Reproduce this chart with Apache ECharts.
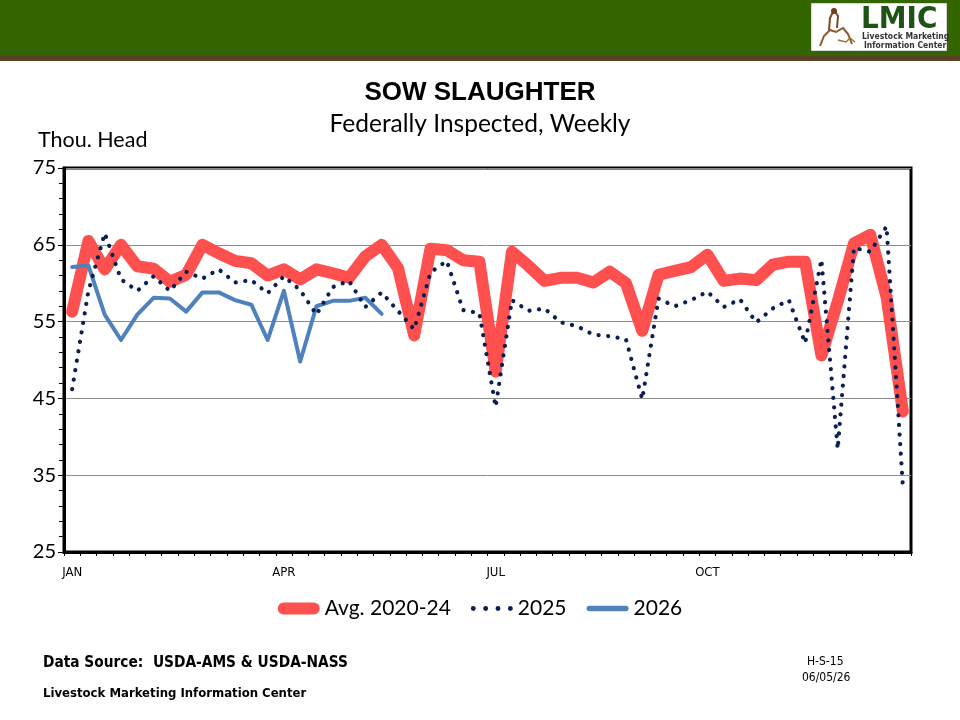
<!DOCTYPE html>
<html>
<head>
<meta charset="utf-8">
<script src="https://cdn.jsdelivr.net/npm/echarts@6/dist/echarts.min.js"></script>
<style>
html,body{margin:0;padding:0;background:#fff;}
#chart{width:960px;height:720px;}
</style>
</head>
<body>
<div id="chart"></div>
<script>
// ---- data ----
var weeks = [];
for (var i = 1; i <= 52; i++) weeks.push('W' + i);
var monthLabels = { 0: 'JAN', 13: 'APR', 26: 'JUL', 39: 'OCT' };
var yTicks = [25, 35, 45, 55, 65, 75];

var avg2020_24 = [56.3, 65.5, 61.8, 65.0, 62.2, 61.9, 60.2, 61.1, 65.0, 63.9,
  62.9, 62.6, 61.0, 61.8, 60.5, 61.8, 61.3, 60.7, 63.5, 65.0,
  62.0, 53.2, 64.5, 64.3, 63.0, 62.8, 48.5, 64.1, 62.3, 60.3,
  60.7, 60.7, 60.1, 61.5, 60.0, 53.8, 61.1, 61.6, 62.1, 63.7,
  60.3, 60.6, 60.4, 62.4, 62.8, 62.8, 50.6, 57.6, 65.2, 66.3,
  58.2, 43.3];
var y2025 = [46.2, 59.0, 66.5, 60.5, 59.0, 60.9, 59.0, 61.5, 60.6, 61.8,
  60.1, 60.4, 58.7, 60.9, 59.1, 55.9, 59.5, 60.3, 56.9, 58.8,
  56.4, 54.0, 61.4, 62.9, 56.5, 56.1, 43.9, 57.8, 56.4, 56.7,
  54.9, 54.4, 53.3, 53.1, 52.7, 44.9, 58.0, 57.0, 57.8, 58.9,
  56.9, 57.9, 54.9, 56.7, 57.8, 52.2, 63.1, 38.4, 64.6, 64.1,
  67.4, 33.6];
var y2026 = [62.1, 62.3, 55.9, 52.6, 55.9, 58.1, 58.0, 56.3, 58.8, 58.8,
  57.8, 57.2, 52.6, 59.0, 49.8, 57.0, 57.7, 57.7, 58.1, 56.0];

var seriesNames = ['Avg. 2020-24', '2025', '2026'];
var colors = { avg: '#ff5050', y25: '#0c1f52', y26: '#4f81bd' };

var calib = "Lato, 'Open Sans', sans-serif";
var narrow = "'Liberation Sans Narrow', 'DejaVu Sans Condensed', 'Liberation Sans', sans-serif";

var chart = echarts.init(document.getElementById('chart'), null, { renderer: 'canvas' });

var option = {
  backgroundColor: '#ffffff',
  animation: false,
  title: [
    { text: 'SOW SLAUGHTER', left: 'center', top: 75,
      textStyle: { fontFamily: "'Liberation Sans', Arial, sans-serif", fontWeight: 'bold', fontSize: 26, color: '#000' } },
    { text: 'Federally Inspected, Weekly', left: 'center', top: 107,
      textStyle: { fontFamily: calib, fontWeight: 'normal', fontSize: 24.5, color: '#000' } }
  ],
  grid: {
    left: 64, right: 49, top: 168, bottom: 168,
    show: true, borderColor: '#000', borderWidth: 3, backgroundColor: 'transparent'
  },
  legend: {
    top: 593, left: 'center',
    itemWidth: 42, itemHeight: 12, itemGap: 20,
    textStyle: { fontFamily: calib, fontSize: 21, color: '#000' },
    data: [
      { name: seriesNames[0], icon: 'path://M6,0 H36 A6,6 0 0 1 36,12 H6 A6,6 0 0 1 6,0 Z', itemStyle: { color: colors.avg } },
      { name: seriesNames[1], icon: 'path://M0,2 A2,2 0 1 0 4,2 A2,2 0 1 0 0,2 Z M10,2 A2,2 0 1 0 14,2 A2,2 0 1 0 10,2 Z M20,2 A2,2 0 1 0 24,2 A2,2 0 1 0 20,2 Z M30,2 A2,2 0 1 0 34,2 A2,2 0 1 0 30,2 Z', itemStyle: { color: colors.y25 } },
      { name: seriesNames[2], icon: 'path://M2.5,0 H35.5 A2.5,2.5 0 0 1 35.5,5 H2.5 A2.5,2.5 0 0 1 2.5,0 Z', itemStyle: { color: colors.y26 } }
    ]
  },
  xAxis: {
    type: 'category', data: weeks, boundaryGap: true,
    axisLine: { show: true, lineStyle: { color: '#000', width: 3 } },
    axisTick: { show: true, interval: 0, length: 4, lineStyle: { color: '#000', width: 1 } },
    axisLabel: {
      interval: 0, margin: 14, color: '#000', fontSize: 13, fontFamily: narrow,
      formatter: function (v, idx) { return monthLabels[idx] || ''; }
    },
    splitLine: { show: false }
  },
  yAxis: {
    type: 'value', min: yTicks[0], max: yTicks[yTicks.length - 1], interval: 10,
    axisLine: { show: true, lineStyle: { color: '#000', width: 3 } },
    axisTick: { show: true, length: 6, lineStyle: { color: '#000', width: 1 } },
    minorTick: { show: true, splitNumber: 5, length: 5, lineStyle: { color: '#000', width: 1 } },
    axisLabel: { margin: 8, color: '#000', fontSize: 20, fontFamily: calib },
    splitLine: { show: true, lineStyle: { color: '#8c8c8c', width: 1 } }
  },
  graphic: [
    // header band
    { type: 'rect', left: 0, top: 0, shape: { width: 960, height: 56 }, style: { fill: '#336600' }, z: 100 },
    { type: 'rect', left: 0, top: 56, shape: { width: 960, height: 5 }, style: { fill: '#5a4024' }, z: 100 },
    // logo
    { type: 'rect', left: 811, top: 3, shape: { width: 135, height: 47 }, style: { fill: '#ffffff', stroke: '#d9d9d9', lineWidth: 1 }, z: 101 },
    { type: 'polyline', z: 102, shape: { points: [[820,46],[824,36],[830,30],[836,32],[843,28],[848,34],[852,44]] }, style: { stroke: '#8b5a2b', lineWidth: 2, fill: null } },
    { type: 'polyline', z: 102, shape: { points: [[829,30],[830,18],[834,10],[838,16],[837,28]] }, style: { stroke: '#7a4a22', lineWidth: 2, fill: null } },
    { type: 'circle', z: 102, shape: { cx: 834, cy: 11, r: 3 }, style: { fill: '#6b3f1d' } },
    { type: 'polyline', z: 102, shape: { points: [[838,40],[846,42],[850,38],[855,42]] }, style: { stroke: '#a0703c', lineWidth: 1.5, fill: null } },
    { type: 'text', left: 861, top: 4, z: 102, style: { text: 'LMIC', fill: '#1e5216', fontFamily: narrow, fontWeight: 'bold', fontSize: 31 } },
    { type: 'text', left: 862, top: 32, z: 102, style: { text: 'Livestock Marketing', fill: '#333', fontFamily: narrow, fontWeight: 'bold', fontSize: 8.5 } },
    { type: 'text', left: 864, top: 41, z: 102, style: { text: 'Information Center', fill: '#333', fontFamily: narrow, fontWeight: 'bold', fontSize: 8.5 } },
    // y axis unit
    { type: 'text', left: 38, top: 129, style: { text: 'Thou. Head', fill: '#000', fontFamily: calib, fontSize: 21.5 } },
    // footer
    { type: 'text', left: 43, top: 656, style: { text: 'Data Source:  USDA-AMS & USDA-NASS', fill: '#000', fontFamily: narrow, fontWeight: 'bold', fontSize: 15.3 } },
    { type: 'text', left: 43, top: 687, style: { text: 'Livestock Marketing Information Center', fill: '#000', fontFamily: narrow, fontWeight: 'bold', fontSize: 13 } },
    { type: 'text', left: 807, top: 656, style: { text: 'H-S-15', fill: '#000', fontFamily: narrow, fontSize: 12 } },
    { type: 'text', left: 802, top: 672, style: { text: '06/05/26', fill: '#000', fontFamily: narrow, fontSize: 12 } }
  ],
  series: [
    {
      name: seriesNames[0], type: 'line', data: avg2020_24, symbol: 'none', z: 2,
      lineStyle: { color: colors.avg, width: 12, cap: 'round', join: 'round' },
      itemStyle: { color: colors.avg }
    },
    {
      name: seriesNames[1], type: 'line', data: y2025, symbol: 'none', z: 4,
      lineStyle: { color: colors.y25, width: 4.2, type: [0.1, 9.5], cap: 'round', join: 'round' },
      itemStyle: { color: colors.y25 }
    },
    {
      name: seriesNames[2], type: 'line', data: y2026, symbol: 'none', z: 3,
      lineStyle: { color: colors.y26, width: 4, cap: 'round', join: 'round' },
      itemStyle: { color: colors.y26 }
    }
  ]
};
chart.setOption(option);
</script>
</body>
</html>
